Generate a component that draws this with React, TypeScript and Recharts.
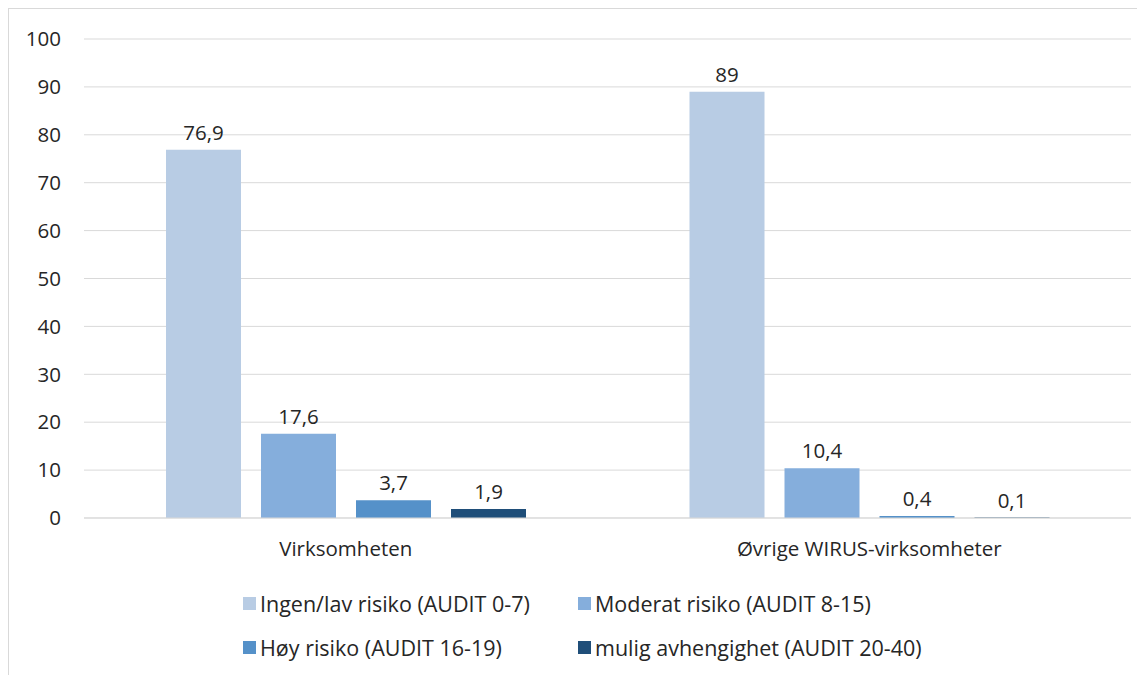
import { BarChart, Bar, XAxis, YAxis, CartesianGrid, Legend, LabelList } from 'recharts';

const categories = ['Virksomheten', 'Øvrige WIRUS-virksomheter'];
const seriesNames = [
  'Ingen/lav risiko (AUDIT 0-7)',
  'Moderat risiko (AUDIT 8-15)',
  'Høy risiko (AUDIT 16-19)',
  'mulig avhengighet (AUDIT 20-40)',
];
const seriesColors = ['#b8cce4', '#85aedc', '#5591c9', '#1f4e79'];
const ingenLav = [76.9, 89];
const moderat = [17.6, 10.4];
const hoy = [3.7, 0.4];
const mulig = [1.9, 0.1];
const yTicks = [0, 10, 20, 30, 40, 50, 60, 70, 80, 90, 100];

const seriesValues = [ingenLav, moderat, hoy, mulig];
const keys = ['s0', 's1', 's2', 's3'];

const data = categories.map((name, i) => {
  const row: Record<string, string | number> = { name };
  keys.forEach((k, s) => {
    row[k] = seriesValues[s][i];
  });
  return row;
});

const fmt = (v: any) => String(v).replace('.', ',');
const textColor = '#262626';
const font = '"Open Sans", sans-serif';
const fs = 20.5;

function LegendBox() {
  return (
    <div style={{ position: 'relative', height: 96, width: 1136, fontFamily: font }}>
      {seriesNames.map((n, i) => (
        <div
          key={n}
          style={{
            position: 'absolute',
            left: i % 2 === 0 ? 234 : 569,
            top: i < 2 ? 10 : 54,
            display: 'flex',
            alignItems: 'center',
            fontSize: 21.5,
            color: textColor,
            whiteSpace: 'nowrap',
          }}
        >
          <span style={{ width: 13, height: 13, background: seriesColors[i], marginRight: 4, display: 'inline-block' }} />
          {n}
        </div>
      ))}
    </div>
  );
}

export default function App() {
  return (
    <div
      style={{
        width: 1136,
        height: 666,
        borderTop: '1px solid #d9d9d9',
        borderLeft: '1px solid #d9d9d9',
        fontFamily: font,
        position: 'relative',
      }}
    >
      <BarChart
        width={1136}
        height={666}
        data={data}
        margin={{ top: 30, right: 14, bottom: 0, left: 25 }}
        barGap={20}
        barSize={75}
      >
        <CartesianGrid vertical={false} stroke="#d9d9d9" />
        <XAxis
          dataKey="name"
          height={61}
          axisLine={{ stroke: '#d9d9d9' }}
          tickLine={false}
          tickSize={0}
          tickMargin={23}
          tick={{ fontSize: fs, fill: textColor }}
        />
        <YAxis
          width={50}
          domain={[0, 100]}
          ticks={yTicks}
          axisLine={false}
          tickLine={false}
          tickSize={0}
          tickMargin={23}
          tick={{ fontSize: fs, fill: textColor }}
        />
        <Legend content={<LegendBox />} wrapperStyle={{ left: 0, top: 570, width: 1136 }} />
        {keys.map((k, s) => (
          <Bar key={k} dataKey={k} name={seriesNames[s]} fill={seriesColors[s]} isAnimationActive={false}>
            <LabelList dataKey={k} position="top" offset={10} formatter={fmt} fill={textColor} fontSize={fs} />
          </Bar>
        ))}
      </BarChart>
    </div>
  );
}
